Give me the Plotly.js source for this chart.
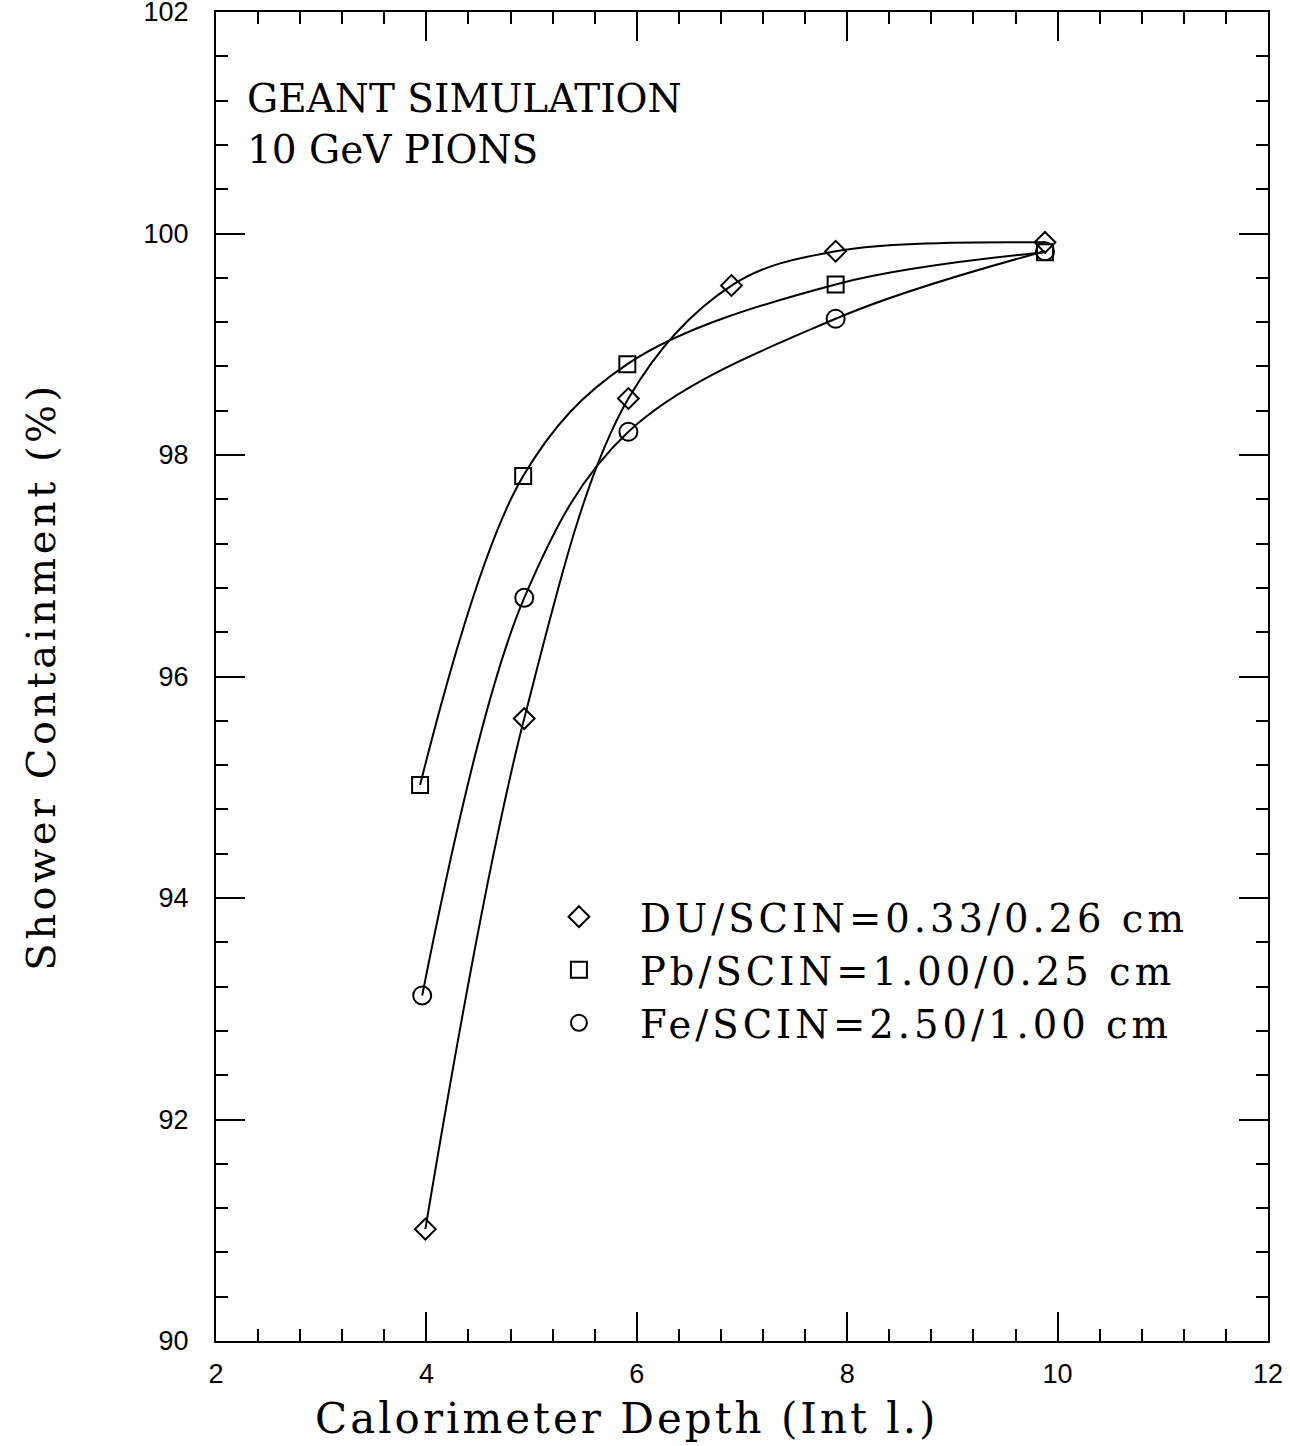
<!DOCTYPE html>
<html>
<head>
<meta charset="utf-8">
<script src="https://cdn.plot.ly/plotly-3.0.1.min.js"></script>
<style>
  html, body { margin: 0; padding: 0; background: #fff; }
  #chart { width: 1290px; height: 1446px; }
  .legendtext { letter-spacing: 4px; }
  .ytitle { letter-spacing: 3.5px; }
  #chart .annotation[data-index="1"] .annotation-text { letter-spacing: 3px; }
  #chart .legend .scrollbox { clip-path: none !important; }
</style>
</head>
<body>
<div id="chart"></div>
<script>
// Calorimeter depth (interaction lengths) and shower containment (%)
const duDepth = [3.99, 4.93, 5.92, 6.90, 7.89, 9.88];
const duContain = [91.01, 95.62, 98.51, 99.53, 99.84, 99.92];

const pbDepth = [3.94, 4.92, 5.91, 7.89, 9.88];
const pbContain = [95.02, 97.81, 98.82, 99.54, 99.83];

const feDepth = [3.96, 4.93, 5.92, 7.89, 9.88];
const feContain = [93.12, 96.71, 98.21, 99.23, 99.84];

const seriesNames = [
  'DU/SCIN=0.33/0.26 cm',
  'Pb/SCIN=1.00/0.25 cm',
  'Fe/SCIN=2.50/1.00 cm'
];

const xTickVals = [2, 4, 6, 8, 10, 12];
const yTickVals = [90, 92, 94, 96, 98, 100, 102];

const annotationLines = ['GEANT SIMULATION', '10 GeV PIONS'];
const xTitle = 'Calorimeter Depth (Int l.)';
const yTitle = 'Shower Containment (%)';

const serif = 'DejaVu Serif, serif';
const sans = 'Liberation Sans, Arial, sans-serif';

const series = [
  {x: duDepth, y: duContain, name: seriesNames[0], symbol: 'diamond-open', size: 16},
  {x: pbDepth, y: pbContain, name: seriesNames[1], symbol: 'square-open', size: 16},
  {x: feDepth, y: feContain, name: seriesNames[2], symbol: 'circle-open', size: 18}
];

const traces = [];
series.forEach(s => {
  traces.push({
    type: 'scatter', mode: 'lines', x: s.x, y: s.y,
    line: {color: '#000', width: 2, shape: 'spline', smoothing: 1},
    showlegend: false, hoverinfo: 'skip'
  });
});
series.forEach(s => {
  traces.push({
    type: 'scatter', mode: 'markers', x: s.x, y: s.y, name: s.name,
    marker: {symbol: s.symbol, size: s.size, color: '#000', line: {color: '#000', width: 2}},
    showlegend: true
  });
});

const layout = {
  width: 1290, height: 1446,
  paper_bgcolor: '#fff', plot_bgcolor: '#fff',
  margin: {l: 216, r: 22, t: 12, b: 105},
  showlegend: true,
  legend: {
    x: 0.287, y: 0.343, xanchor: 'left', yanchor: 'top',
    font: {family: serif, size: 38.5, color: '#000'},
    bgcolor: 'rgba(0,0,0,0)', borderwidth: 0,
    itemsizing: 'trace', itemwidth: 112, tracegroupgap: 0
  },
  xaxis: {
    range: [2, 12], tickvals: xTickVals, ticktext: xTickVals.map(String),
    ticks: 'inside', ticklen: 29, tickwidth: 2, tickcolor: '#000',
    showline: true, linewidth: 2, linecolor: '#000', mirror: 'ticks',
    showgrid: false, zeroline: false,
    minor: {dtick: 0.4, tick0: 2, ticks: 'inside', ticklen: 12, tickwidth: 2, tickcolor: '#000', showgrid: false},
    tickfont: {family: sans, size: 27, color: '#000'},
    ticklabelstandoff: 8, ticklabeloverflow: 'allow'
  },
  yaxis: {
    range: [90, 102], tickvals: yTickVals, ticktext: yTickVals.map(String),
    ticks: 'inside', ticklen: 29, tickwidth: 2, tickcolor: '#000',
    showline: true, linewidth: 2, linecolor: '#000', mirror: 'ticks',
    showgrid: false, zeroline: false,
    minor: {dtick: 0.4, tick0: 90, ticks: 'inside', ticklen: 12, tickwidth: 2, tickcolor: '#000', showgrid: false},
    tickfont: {family: sans, size: 27, color: '#000'},
    ticklabelstandoff: 20, ticklabeloverflow: 'allow',
    title: {text: yTitle, font: {family: serif, size: 40, color: '#000'}, standoff: 76}
  },
  annotations: [
    {
      text: annotationLines.join('<br>'), xref: 'paper', yref: 'paper',
      x: 0.028, y: 0.953, xanchor: 'left', yanchor: 'top', align: 'left',
      showarrow: false, font: {family: serif, size: 39, color: '#000'}
    },
    {
      text: xTitle, xref: 'paper', yref: 'paper',
      x: 0.129, y: -0.058, xanchor: 'left', yanchor: 'middle',
      showarrow: false, font: {family: serif, size: 42, color: '#000'}
    }
  ]
};

Plotly.newPlot('chart', traces, layout, {displayModeBar: false, staticPlot: true});
</script>
</body>
</html>
